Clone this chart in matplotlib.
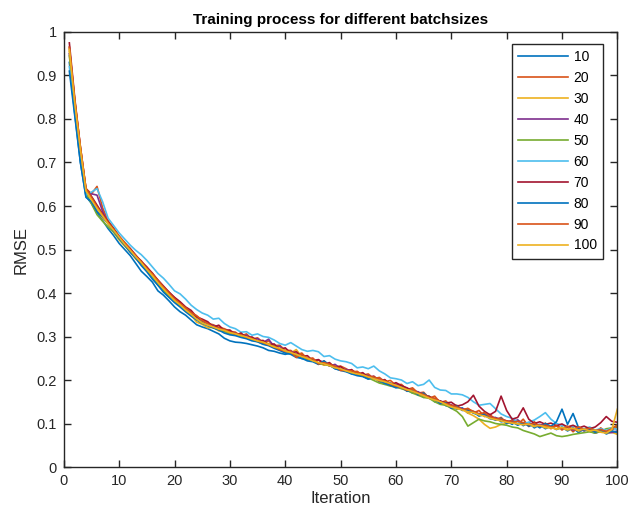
import matplotlib
matplotlib.use("Agg")
import matplotlib.pyplot as plt
import numpy as np

plt.rcParams['font.family'] = ['Liberation Sans', 'DejaVu Sans']

iterations = list(range(1, 101))
batch_labels = ["10", "20", "30", "40", "50", "60", "70", "80", "90", "100"]
colors = ["#0072BD", "#D95319", "#EDB120", "#7E2F8E", "#77AC30",
          "#4DBEEE", "#A2142F", "#0072BD", "#D95319", "#EDB120"]

s10 = [0.930, 0.810, 0.700, 0.622, 0.606, 0.585, 0.567, 0.548, 0.532, 0.514,
       0.500, 0.486, 0.468, 0.450, 0.438, 0.425, 0.405, 0.395, 0.382, 0.368,
       0.357, 0.349, 0.338, 0.327, 0.322, 0.318, 0.312, 0.306, 0.296, 0.290,
       0.287, 0.286, 0.284, 0.281, 0.278, 0.274, 0.268, 0.266, 0.262, 0.259,
       0.262, 0.255, 0.249, 0.248, 0.244, 0.238, 0.236, 0.236, 0.226, 0.223,
       0.222, 0.214, 0.217, 0.209, 0.203, 0.206, 0.196, 0.190, 0.193, 0.186,
       0.181, 0.178, 0.170, 0.172, 0.160, 0.163, 0.150, 0.152, 0.141, 0.138,
       0.133, 0.136, 0.124, 0.128, 0.117, 0.121, 0.111, 0.114, 0.104, 0.106,
       0.098, 0.108, 0.095, 0.102, 0.090, 0.097, 0.088, 0.094, 0.086, 0.092,
       0.083, 0.090, 0.079, 0.088, 0.082, 0.078, 0.087, 0.076, 0.081, 0.077]
s20 = [0.965, 0.840, 0.735, 0.640, 0.628, 0.645, 0.596, 0.566, 0.548, 0.530,
       0.515, 0.502, 0.485, 0.474, 0.458, 0.446, 0.428, 0.414, 0.400, 0.389,
       0.377, 0.366, 0.356, 0.345, 0.338, 0.330, 0.327, 0.321, 0.318, 0.312,
       0.310, 0.301, 0.306, 0.294, 0.297, 0.286, 0.290, 0.279, 0.280, 0.268,
       0.268, 0.258, 0.262, 0.248, 0.250, 0.236, 0.244, 0.233, 0.231, 0.232,
       0.226, 0.218, 0.220, 0.211, 0.214, 0.203, 0.206, 0.196, 0.199, 0.188,
       0.190, 0.178, 0.182, 0.170, 0.172, 0.158, 0.163, 0.148, 0.152, 0.139,
       0.142, 0.131, 0.135, 0.124, 0.130, 0.116, 0.121, 0.108, 0.114, 0.102,
       0.108, 0.098, 0.110, 0.093, 0.104, 0.092, 0.101, 0.088, 0.096, 0.085,
       0.094, 0.081, 0.092, 0.084, 0.088, 0.079, 0.090, 0.080, 0.085, 0.092]
s30 = [0.955, 0.835, 0.730, 0.635, 0.615, 0.590, 0.572, 0.560, 0.540, 0.522,
       0.508, 0.495, 0.478, 0.468, 0.452, 0.436, 0.420, 0.404, 0.392, 0.380,
       0.370, 0.358, 0.350, 0.333, 0.328, 0.320, 0.321, 0.313, 0.312, 0.305,
       0.305, 0.300, 0.297, 0.294, 0.290, 0.286, 0.284, 0.278, 0.272, 0.268,
       0.262, 0.270, 0.253, 0.249, 0.246, 0.240, 0.234, 0.238, 0.230, 0.226,
       0.222, 0.219, 0.214, 0.213, 0.206, 0.204, 0.198, 0.195, 0.192, 0.184,
       0.184, 0.177, 0.176, 0.168, 0.164, 0.162, 0.155, 0.149, 0.147, 0.139,
       0.134, 0.133, 0.124, 0.118, 0.110, 0.098, 0.089, 0.092, 0.098, 0.100,
       0.104, 0.099, 0.100, 0.097, 0.093, 0.096, 0.090, 0.091, 0.087, 0.089,
       0.085, 0.088, 0.083, 0.086, 0.082, 0.080, 0.083, 0.078, 0.080, 0.075]
s40 = [0.950, 0.830, 0.725, 0.635, 0.628, 0.625, 0.588, 0.560, 0.545, 0.528,
       0.513, 0.499, 0.484, 0.470, 0.458, 0.442, 0.427, 0.413, 0.402, 0.388,
       0.376, 0.366, 0.354, 0.345, 0.335, 0.330, 0.325, 0.318, 0.315, 0.310,
       0.308, 0.300, 0.303, 0.294, 0.295, 0.286, 0.294, 0.276, 0.278, 0.265,
       0.266, 0.260, 0.256, 0.250, 0.244, 0.246, 0.240, 0.232, 0.236, 0.226,
       0.224, 0.222, 0.215, 0.213, 0.210, 0.204, 0.202, 0.198, 0.192, 0.190,
       0.186, 0.181, 0.175, 0.173, 0.166, 0.161, 0.157, 0.150, 0.147, 0.143,
       0.137, 0.134, 0.130, 0.127, 0.122, 0.121, 0.116, 0.113, 0.110, 0.106,
       0.104, 0.108, 0.099, 0.102, 0.096, 0.098, 0.094, 0.092, 0.095, 0.088,
       0.091, 0.085, 0.088, 0.083, 0.087, 0.078, 0.082, 0.080, 0.079, 0.083]
s50 = [0.945, 0.825, 0.720, 0.630, 0.605, 0.580, 0.565, 0.552, 0.540, 0.524,
       0.510, 0.494, 0.482, 0.466, 0.450, 0.436, 0.418, 0.406, 0.394, 0.383,
       0.372, 0.360, 0.350, 0.340, 0.332, 0.325, 0.320, 0.316, 0.312, 0.307,
       0.305, 0.301, 0.297, 0.293, 0.288, 0.283, 0.280, 0.277, 0.272, 0.266,
       0.262, 0.258, 0.254, 0.248, 0.245, 0.238, 0.236, 0.233, 0.229, 0.225,
       0.220, 0.218, 0.212, 0.210, 0.205, 0.199, 0.193, 0.190, 0.186, 0.184,
       0.180, 0.176, 0.170, 0.165, 0.160, 0.158, 0.150, 0.144, 0.142, 0.135,
       0.128, 0.116, 0.094, 0.102, 0.110, 0.106, 0.104, 0.100, 0.098, 0.096,
       0.092, 0.090, 0.084, 0.080, 0.076, 0.070, 0.074, 0.078, 0.072, 0.070,
       0.072, 0.075, 0.077, 0.079, 0.081, 0.078, 0.082, 0.088, 0.090, 0.094]
s60 = [0.920, 0.815, 0.715, 0.625, 0.632, 0.640, 0.610, 0.572, 0.555, 0.538,
       0.524, 0.510, 0.498, 0.488, 0.475, 0.460, 0.445, 0.434, 0.420, 0.405,
       0.398, 0.386, 0.372, 0.362, 0.354, 0.349, 0.340, 0.342, 0.330, 0.322,
       0.318, 0.310, 0.311, 0.303, 0.306, 0.300, 0.298, 0.292, 0.284, 0.280,
       0.286, 0.278, 0.270, 0.266, 0.268, 0.265, 0.254, 0.256, 0.248, 0.244,
       0.242, 0.238, 0.228, 0.230, 0.226, 0.232, 0.221, 0.214, 0.205, 0.203,
       0.200, 0.192, 0.196, 0.187, 0.190, 0.200, 0.183, 0.177, 0.176, 0.168,
       0.168, 0.166, 0.160, 0.150, 0.142, 0.144, 0.146, 0.134, 0.122, 0.116,
       0.112, 0.104, 0.100, 0.103, 0.108, 0.116, 0.125, 0.110, 0.100, 0.096,
       0.092, 0.094, 0.090, 0.088, 0.092, 0.085, 0.088, 0.084, 0.090, 0.086]
s70 = [0.975, 0.845, 0.735, 0.640, 0.622, 0.602, 0.582, 0.564, 0.548, 0.530,
       0.515, 0.502, 0.487, 0.472, 0.460, 0.445, 0.430, 0.416, 0.402, 0.390,
       0.380, 0.368, 0.360, 0.345, 0.340, 0.334, 0.322, 0.326, 0.314, 0.315,
       0.303, 0.308, 0.298, 0.299, 0.290, 0.291, 0.281, 0.283, 0.270, 0.274,
       0.262, 0.265, 0.254, 0.256, 0.244, 0.247, 0.236, 0.240, 0.228, 0.231,
       0.220, 0.224, 0.213, 0.217, 0.206, 0.209, 0.198, 0.201, 0.188, 0.194,
       0.187, 0.182, 0.175, 0.168, 0.166, 0.162, 0.155, 0.152, 0.147, 0.149,
       0.140, 0.143, 0.150, 0.165, 0.140, 0.128, 0.120, 0.128, 0.163, 0.130,
       0.110, 0.114, 0.136, 0.110, 0.100, 0.104, 0.098, 0.101, 0.095, 0.099,
       0.092, 0.096, 0.090, 0.094, 0.088, 0.092, 0.102, 0.116, 0.105, 0.103]
s80 = [0.910, 0.805, 0.700, 0.620, 0.610, 0.587, 0.575, 0.560, 0.543, 0.526,
       0.510, 0.494, 0.480, 0.463, 0.449, 0.432, 0.418, 0.402, 0.390, 0.378,
       0.368, 0.357, 0.347, 0.338, 0.330, 0.325, 0.320, 0.315, 0.308, 0.304,
       0.302, 0.298, 0.295, 0.290, 0.288, 0.282, 0.279, 0.273, 0.268, 0.262,
       0.259, 0.252, 0.250, 0.244, 0.242, 0.236, 0.244, 0.234, 0.226, 0.222,
       0.219, 0.214, 0.210, 0.208, 0.202, 0.206, 0.200, 0.192, 0.188, 0.182,
       0.184, 0.174, 0.178, 0.166, 0.170, 0.158, 0.156, 0.146, 0.148, 0.135,
       0.140, 0.130, 0.132, 0.124, 0.119, 0.123, 0.112, 0.108, 0.112, 0.100,
       0.104, 0.096, 0.102, 0.094, 0.098, 0.090, 0.100, 0.093, 0.104, 0.133,
       0.098, 0.123, 0.090, 0.084, 0.088, 0.080, 0.086, 0.078, 0.083, 0.080]
s90 = [0.965, 0.840, 0.735, 0.640, 0.620, 0.598, 0.580, 0.562, 0.546, 0.530,
       0.516, 0.500, 0.486, 0.470, 0.457, 0.444, 0.429, 0.414, 0.400, 0.387,
       0.376, 0.366, 0.355, 0.348, 0.337, 0.330, 0.322, 0.318, 0.316, 0.310,
       0.307, 0.304, 0.298, 0.295, 0.290, 0.286, 0.281, 0.276, 0.270, 0.266,
       0.265, 0.252, 0.260, 0.249, 0.250, 0.237, 0.240, 0.236, 0.232, 0.222,
       0.222, 0.221, 0.218, 0.211, 0.208, 0.207, 0.202, 0.198, 0.191, 0.186,
       0.183, 0.176, 0.179, 0.170, 0.167, 0.160, 0.158, 0.150, 0.146, 0.142,
       0.138, 0.132, 0.134, 0.128, 0.122, 0.125, 0.116, 0.112, 0.110, 0.106,
       0.103, 0.105, 0.102, 0.097, 0.100, 0.094, 0.096, 0.092, 0.094, 0.089,
       0.093, 0.087, 0.092, 0.086, 0.089, 0.084, 0.086, 0.082, 0.088, 0.097]
s100 = [0.960, 0.835, 0.730, 0.635, 0.614, 0.595, 0.577, 0.559, 0.544, 0.528,
        0.512, 0.498, 0.483, 0.470, 0.454, 0.440, 0.424, 0.410, 0.396, 0.383,
        0.373, 0.361, 0.351, 0.340, 0.331, 0.326, 0.322, 0.317, 0.314, 0.309,
        0.306, 0.302, 0.299, 0.294, 0.290, 0.287, 0.282, 0.276, 0.273, 0.267,
        0.263, 0.259, 0.254, 0.250, 0.244, 0.240, 0.237, 0.233, 0.228, 0.226,
        0.221, 0.217, 0.214, 0.212, 0.207, 0.203, 0.199, 0.196, 0.192, 0.188,
        0.183, 0.178, 0.174, 0.169, 0.164, 0.158, 0.154, 0.150, 0.144, 0.138,
        0.135, 0.131, 0.127, 0.125, 0.120, 0.117, 0.112, 0.109, 0.106, 0.103,
        0.101, 0.099, 0.097, 0.099, 0.094, 0.096, 0.092, 0.090, 0.088, 0.091,
        0.087, 0.089, 0.085, 0.087, 0.083, 0.085, 0.080, 0.078, 0.086, 0.133]

series = [s10, s20, s30, s40, s50, s60, s70, s80, s90, s100]

x_ticks = list(range(0, 101, 10))
y_ticks = [0, 0.1, 0.2, 0.3, 0.4, 0.5, 0.6, 0.7, 0.8, 0.9, 1]
y_tick_labels = ["0", "0.1", "0.2", "0.3", "0.4", "0.5", "0.6", "0.7", "0.8", "0.9", "1"]

fig = plt.figure(figsize=(6.30, 5.21), dpi=100)
ax = fig.add_axes([0.1013, 0.1036, 0.8786, 0.835])

for vals, lab, col in zip(series, batch_labels, colors):
    ax.plot(iterations, vals, color=col, lw=1.2, label=lab)

ax.set_xlim(0, 100)
ax.set_ylim(0, 1)
ax.set_xticks(x_ticks)
ax.set_xticklabels([str(t) for t in x_ticks])
ax.set_yticks(y_ticks)
ax.set_yticklabels(y_tick_labels)
ax.tick_params(direction='in', top=True, right=True, length=5, width=1.0,
               labelsize=10.5, colors='#262626', pad=5)
for sp in ax.spines.values():
    sp.set_linewidth(1.0)
    sp.set_color('#262626')

ax.set_xlabel("Iteration", fontsize=12, color='#262626', labelpad=2)
ax.set_ylabel("RMSE", fontsize=12, color='#262626', labelpad=6)
ax.set_title("Training process for different batchsizes", fontsize=11,
             fontweight='bold', color='black', pad=6)

leg = ax.legend(loc='upper right', bbox_to_anchor=(0.974, 0.973), fontsize=10,
                fancybox=False, framealpha=1, edgecolor='#262626',
                handlelength=3.6, handletextpad=0.4, labelspacing=0.5,
                borderpad=0.45, borderaxespad=0)
leg.get_frame().set_linewidth(1.0)

fig.savefig("out.png", dpi=100)
